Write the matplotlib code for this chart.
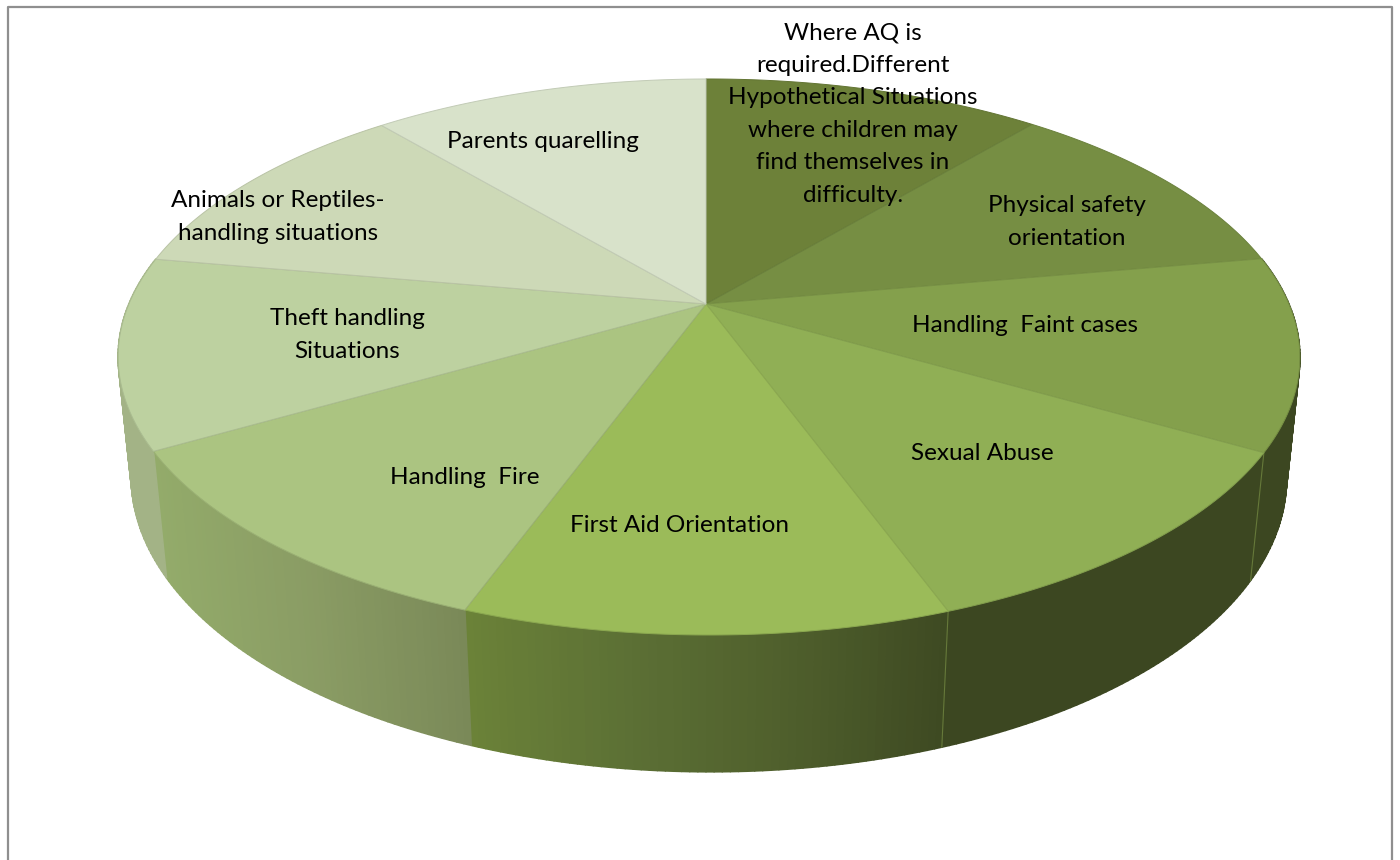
import numpy as np
import matplotlib
matplotlib.use("Agg")
import matplotlib.pyplot as plt
from matplotlib.collections import PolyCollection
from matplotlib.colors import LinearSegmentedColormap, to_rgb
from matplotlib.patches import Polygon

plt.rcParams['font.family'] = ['Lato', 'DejaVu Sans']

# one label per slice, clockwise from 12 o'clock
labels = [
    "Where AQ is\nrequired.Different\nHypothetical Situations\nwhere children may\nfind themselves in\ndifficulty.",
    "Physical safety\norientation",
    "Handling  Faint cases",
    "Sexual Abuse",
    "First Aid Orientation",
    "Handling  Fire",
    "Theft handling\nSituations",
    "Animals or Reptiles-\nhandling situations",
    "Parents quarelling",
]
values = [1, 1, 1, 1, 1, 1, 1, 1, 1]

top_colors = ["#6d8139", "#768e43", "#84a04c", "#90af55", "#9bbb59",
              "#abc481", "#bdd1a0", "#cdd9b7", "#d8e2ca"]
# wall colours, left to right on screen
wall_colors = [
    ["#3c4721", "#3c4721"],
    ["#3c4721", "#3c4721"],
    ["#3c4721", "#3c4721"],
    ["#3c4721", "#3c4721"],
    ["#6b8238", "#5c7035", "#4f5f2c", "#3e4a22"],
    ["#93ab6a", "#8a9c64", "#7a8958"],
    ["#a3b386", "#a3b386"],
    ["#a3b386", "#a3b386"],
    ["#a3b386", "#a3b386"],
]

# label centres in pixels, same order as labels
label_xy = [(853, 114), (1067, 222), (1025, 326), (982, 453), (680, 525),
            (465, 477), (347, 335), (278, 217), (543, 142)]

# perspective of the pie, in pixels
HUB_X, HUB_Y = 706, 304
SCALE_X, SCALE_Y = 580, 267.9
TILT = 0.1906
SKEW = 0.005
DROP = 121
DEPTH_W = 0.022


def project(angle, bottom=False):
    # angle in degrees clockwise from the top of the pie
    u = np.sin(np.radians(angle))
    v = np.cos(np.radians(angle))
    w = 1 + TILT * v - SKEW * u + (DEPTH_W if bottom else 0)
    drop = DROP if bottom else 0
    return HUB_X + SCALE_X * u / w, HUB_Y + (drop - SCALE_Y * v) / w


def arc(start, end, bottom=False):
    ang = np.linspace(start, end, 80)
    return np.column_stack(project(ang, bottom))


def darker(color, f=0.9):
    return tuple(c * f for c in to_rgb(color))


fig = plt.figure(figsize=(14, 8.6), dpi=100)
ax = fig.add_axes([0, 0, 1, 1])
ax.set_xlim(0, 1400)
ax.set_ylim(860, 0)
ax.axis('off')

# frame, the bottom edge is cut off in the original
ax.plot([8, 8, 1392, 1392], [860, 6.5, 6.5, 860], color="#8f8f8f", lw=1.6, zorder=1)

edges = np.cumsum([0] + values) / sum(values) * 360

# side wall: only the slices on the near side show
for i in range(len(values)):
    start, end = edges[i], edges[i + 1]
    if end <= 80 or start >= 280:
        continue
    cmap = LinearSegmentedColormap.from_list("wall", wall_colors[i])
    steps = np.linspace(start, end, 61)
    x_top, y_top = project(steps)
    x_bot, y_bot = project(steps, True)
    quads = [[(x_top[k], y_top[k]), (x_top[k + 1], y_top[k + 1]),
              (x_bot[k + 1], y_bot[k + 1]), (x_bot[k], y_bot[k])]
             for k in range(60)]
    mid_x = (x_top[:-1] + x_top[1:]) / 2
    pos = (mid_x - x_top.min()) / (x_top.max() - x_top.min())
    ax.add_collection(PolyCollection(quads, facecolors=cmap(pos), edgecolors=cmap(pos),
                                     linewidths=1.2, zorder=2))

# seams on the wall, only the dark side shows a clear one
for angle in edges[3:5]:
    x0, y0 = project(angle)
    x1, y1 = project(angle, True)
    ax.plot([x0, x1], [y0, y1], color="#66793a", lw=0.8, zorder=3)

# top face
for i in range(len(values)):
    pts = np.vstack([[HUB_X, HUB_Y], arc(edges[i], edges[i + 1])])
    ax.add_patch(Polygon(pts, closed=True, facecolor=top_colors[i],
                         edgecolor=darker(top_colors[i]), lw=0.7, zorder=4))

for text, (x, y) in zip(labels, label_xy):
    ax.text(x, y, text, ha='center', va='center', fontsize=17.5, color='black',
            linespacing=1.68, zorder=5)

fig.savefig("out.png", dpi=100)
